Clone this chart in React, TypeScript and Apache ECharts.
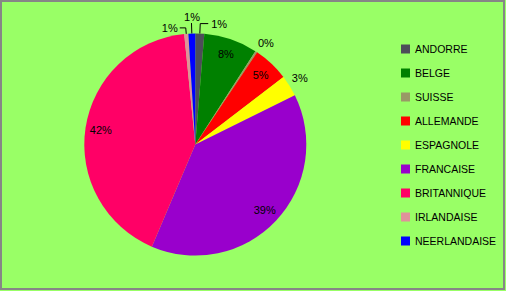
import React, { useEffect, useRef } from 'react';
import * as echarts from 'echarts';

const categories = ['ANDORRE', 'BELGE', 'SUISSE', 'ALLEMANDE', 'ESPAGNOLE', 'FRANCAISE', 'BRITANNIQUE', 'IRLANDAISE', 'NEERLANDAISE'];
const values = [1.3, 7.8, 0.3, 5.2, 3.1, 38.7, 42.0, 0.6, 1.0];
const colors = ['#4d4d59', '#008000', '#999966', '#ff0000', '#ffff00', '#9900cc', '#ff0066', '#e0919a', '#0000ff'];
const insideLabelNames = ['BELGE', 'ALLEMANDE', 'FRANCAISE', 'BRITANNIQUE'];

// outer label styling (line lengths / offsets), keyed by category
const outerLabelStyle: Record<string, any> = {
  ANDORRE: { line: true, length: 10, length2: 8, dist: 3, lift: false },
  SUISSE: { line: false, length: 10.4, length2: 0, dist: -4, lift: false },
  ESPAGNOLE: { line: false, length: 15.9, length2: 0, dist: -11.3, lift: false },
  IRLANDAISE: { line: true, length: 6, length2: 6, dist: 2, lift: false },
  NEERLANDAISE: { line: true, length: 10.5, length2: 0, dist: -8.5, lift: true },
};

const FONT = '"Liberation Sans", Arial, sans-serif';

export default function App() {
  const ref = useRef<HTMLDivElement>(null);
  useEffect(() => {
    document.body.style.margin = '0';
    const chart = echarts.init(ref.current!, null, { renderer: 'svg' });
    const fmt = (p: any) => Math.round(p.percent) + '%';
    const fmtLift = (p: any) => Math.round(p.percent) + '%\n ';

    const mainData = categories.map((name, i) => {
      const s = outerLabelStyle[name];
      const item: any = { name, value: values[i], itemStyle: { color: colors[i] } };
      if (s) {
        item.label = {
          show: true,
          position: 'outside',
          distanceToLabelLine: s.dist,
          formatter: s.lift ? fmtLift : fmt,
        };
        item.labelLine = { show: s.line, length: s.length, length2: s.length2 };
      } else {
        item.label = { show: false };
        item.labelLine = { show: false };
      }
      return item;
    });

    const innerData = categories.map((name, i) => ({
      name,
      value: values[i],
      itemStyle: { color: 'rgba(0,0,0,0)' },
      label: { show: insideLabelNames.includes(name) },
    }));

    chart.setOption({
      animation: false,
      backgroundColor: '#99ff66',
      color: colors,
      legend: {
        orient: 'vertical',
        left: 396,
        top: 38,
        itemWidth: 9,
        itemHeight: 9,
        itemGap: 12,
        icon: 'rect',
        selectedMode: false,
        data: categories,
        textStyle: { fontFamily: FONT, fontSize: 10.5, color: '#000', lineHeight: 12 },
      },
      graphic: [
        {
          type: 'rect',
          shape: { x: 1, y: 1, width: 503, height: 288 },
          style: { fill: 'none', stroke: '#868686', lineWidth: 2 },
          silent: true,
        },
      ],
      series: [
        {
          type: 'pie',
          center: [195.3, 144.5],
          radius: [0, 111],
          startAngle: 90,
          clockwise: true,
          avoidLabelOverlap: false,
          label: { fontFamily: FONT, fontSize: 11, color: '#000', lineHeight: 12 },
          labelLine: { lineStyle: { color: '#000', width: 1 }, minTurnAngle: 0, maxSurfaceAngle: 180 },
          emphasis: { disabled: true },
          itemStyle: { borderWidth: 0 },
          data: mainData,
        },
        {
          type: 'pie',
          center: [195.3, 144.5],
          radius: [74, 111],
          startAngle: 90,
          clockwise: true,
          silent: true,
          avoidLabelOverlap: false,
          label: { position: 'inside', fontFamily: FONT, fontSize: 11, color: '#000', formatter: fmt },
          labelLine: { show: false },
          emphasis: { disabled: true },
          itemStyle: { borderWidth: 0 },
          data: innerData,
        },
      ],
    });
    return () => chart.dispose();
  }, []);
  return <div ref={ref} style={{ width: 506, height: 291 }} />;
}
